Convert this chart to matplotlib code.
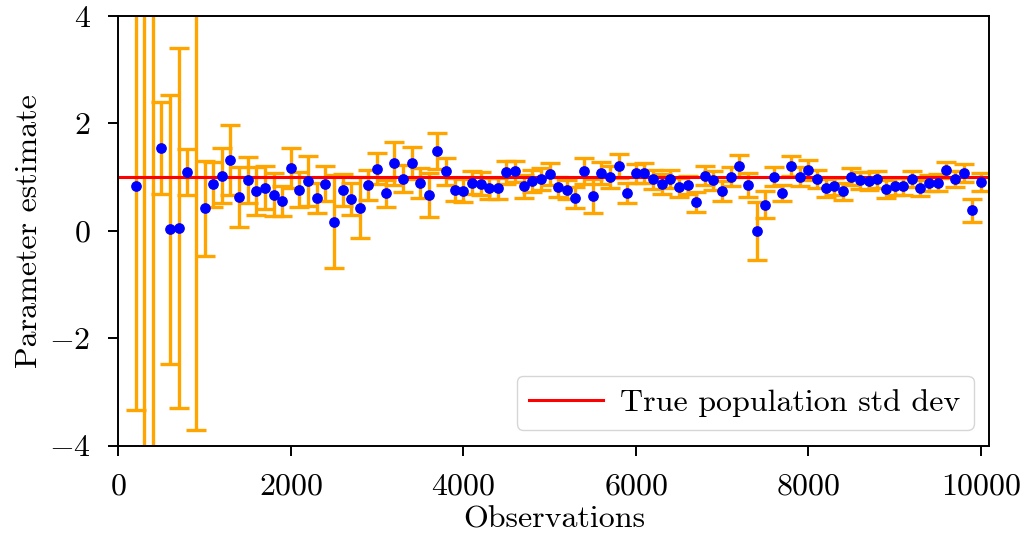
import numpy as np
import matplotlib
matplotlib.use("Agg")
import matplotlib.pyplot as plt

plt.rcParams['font.family'] = 'serif'
plt.rcParams['font.serif'] = ['cmr10']
plt.rcParams['mathtext.fontset'] = 'cm'
plt.rcParams['axes.formatter.use_mathtext'] = True
plt.rcParams['axes.unicode_minus'] = True

observations = np.arange(200, 10001, 100)
estimates = [
    0.83, 5.0, -5.0, 1.54, 0.03, 0.06, 1.09, 4.4, 0.42, 0.87,
    1.03, 1.32, 0.63, 0.95, 0.74, 0.80, 0.67, 0.55, 1.17, 0.77,
    0.93, 0.61, 0.88, 0.17, 0.76, 0.59, 0.43, 0.85, 1.16, 0.70,
    1.26, 0.97, 1.26, 0.89, 0.66, 1.49, 1.11, 0.77, 0.75, 0.90,
    0.88, 0.79, 0.79, 1.09, 1.11, 0.83, 0.93, 0.97, 1.06, 0.82,
    0.77, 0.62, 1.11, 0.65, 1.08, 1.00, 1.21, 0.70, 1.07, 1.08,
    0.96, 0.87, 0.96, 0.81, 0.85, 0.54, 1.03, 0.94, 0.74, 1.01,
    1.21, 0.85, 0.00, 0.49, 1.01, 0.71, 1.21, 1.01, 1.13, 0.97,
    0.80, 0.83, 0.74, 1.01, 0.94, 0.93, 0.96, 0.78, 0.83, 0.83,
    0.96, 0.80, 0.89, 0.90, 1.14, 0.96, 1.08, 0.38, 0.91,
]
errors = [
    4.17, 10.0, 10.0, 0.85, 2.50, 3.35, 0.43, 8.1, 0.89, 0.42,
    0.51, 0.66, 0.55, 0.43, 0.45, 0.40, 0.40, 0.28, 0.38, 0.32,
    0.46, 0.28, 0.33, 0.87, 0.30, 0.30, 0.57, 0.28, 0.29, 0.25,
    0.40, 0.25, 0.30, 0.28, 0.41, 0.33, 0.25, 0.22, 0.22, 0.22,
    0.22, 0.20, 0.20, 0.21, 0.20, 0.21, 0.20, 0.20, 0.21, 0.18,
    0.18, 0.20, 0.24, 0.32, 0.20, 0.20, 0.22, 0.19, 0.18, 0.18,
    0.18, 0.18, 0.17, 0.17, 0.17, 0.19, 0.17, 0.17, 0.18, 0.17,
    0.20, 0.22, 0.54, 0.25, 0.17, 0.15, 0.19, 0.17, 0.19, 0.17,
    0.16, 0.16, 0.16, 0.16, 0.16, 0.16, 0.16, 0.16, 0.16, 0.16,
    0.15, 0.15, 0.15, 0.15, 0.15, 0.15, 0.17, 0.21, 0.16,
]
true_std = 1.0
legend_label = "True population std dev"

FS = 23
fig = plt.figure(figsize=(10.26, 5.39), dpi=100)
ax = fig.add_axes([0.1153, 0.173, 0.8491, 0.7973])

ax.errorbar(observations, estimates, yerr=errors, fmt='none', ecolor='orange',
            elinewidth=2.4, capsize=7.5, capthick=2.4, zorder=1)
ax.axhline(true_std, color='red', lw=2.2, zorder=2, label=legend_label)
ax.plot(observations, estimates, 'o', color='blue', markersize=6.7, zorder=3)

ax.set_xlim(0, 10100)
ax.set_ylim(-4, 4)
ax.set_xticks([0, 2000, 4000, 6000, 8000, 10000])
ax.set_yticks([-4, -2, 0, 2, 4])
ax.tick_params(labelsize=FS, length=7, width=1.4, pad=13)
for s in ax.spines.values():
    s.set_linewidth(1.4)
ax.set_xlabel("Observations", fontsize=FS, labelpad=4)
ax.set_ylabel("Parameter estimate", fontsize=FS, labelpad=4)
ax.legend(loc='lower right', fontsize=FS, handlelength=2.3, handletextpad=0.55)

fig.savefig("out.png", dpi=100)
